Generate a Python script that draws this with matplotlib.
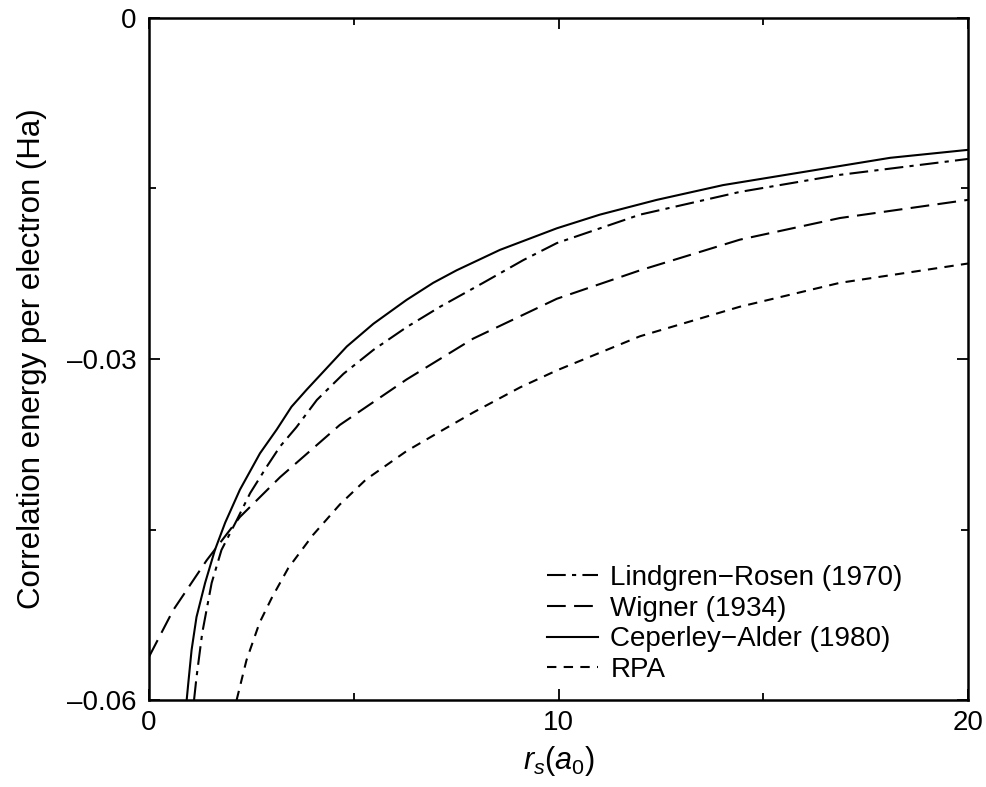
import matplotlib
matplotlib.use("Agg")
import matplotlib.pyplot as plt
from matplotlib.ticker import MultipleLocator

plt.rcParams['font.family'] = ['Liberation Sans', 'DejaVu Sans']
plt.rcParams['mathtext.fontset'] = 'custom'
plt.rcParams['mathtext.rm'] = 'Liberation Sans'
plt.rcParams['mathtext.it'] = 'Liberation Sans:italic'

# Ceperley-Alder (1980), solid
ca_rs = [0.92, 0.96, 1.04, 1.16, 1.37, 1.61, 1.86, 2.22, 2.71, 3.12, 3.48, 3.85,
         4.83, 5.48, 6.29, 6.94, 7.51, 8.57, 9.96, 11.01, 12.4, 14.02, 16.06,
         18.1, 20]
ca_ec = [-0.0600, -0.0585, -0.0556, -0.0527, -0.0497, -0.0468, -0.0444, -0.0415,
         -0.0383, -0.0362, -0.0342, -0.0327, -0.0289, -0.0269, -0.0248, -0.0233,
         -0.0222, -0.0204, -0.0185, -0.0173, -0.0160, -0.0147, -0.0135, -0.0123,
         -0.0116]

# Lindgren-Rosen (1970), dash-dot
lr_rs = [1.10, 1.16, 1.30, 1.53, 1.77, 2.14, 2.47, 2.87, 3.2, 3.6, 4.1, 4.75,
         5.48, 6.29, 7.11, 8.16, 9.14, 9.96, 11.99, 14.43, 16.87, 20]
lr_ec = [-0.0600, -0.0580, -0.0541, -0.0497, -0.0468, -0.0442, -0.0418, -0.0395,
         -0.0377, -0.0360, -0.0336, -0.0313, -0.0292, -0.0272, -0.0254, -0.0233,
         -0.0213, -0.0198, -0.0173, -0.0153, -0.0138, -0.0124]

# Wigner (1934), long dashes
wg_rs = [0, 0.59, 1.41, 2.22, 3.2, 4.66, 6.29, 7.92, 9.96, 11.99, 14.43, 16.87, 20]
wg_ec = [-0.0562, -0.0521, -0.0477, -0.0439, -0.0404, -0.0358, -0.0318, -0.0282,
         -0.0247, -0.0222, -0.0195, -0.0176, -0.0160]

# RPA, short dashes
rpa_rs = [2.14, 2.38, 2.7, 3.0, 3.4, 4.0, 4.66, 5.3, 6.29, 7.1, 7.92, 9.06, 9.96,
          11.99, 14.43, 16.87, 20]
rpa_ec = [-0.0600, -0.0565, -0.0532, -0.0510, -0.0484, -0.0455, -0.0428, -0.0406,
          -0.0381, -0.0364, -0.0347, -0.0325, -0.0310, -0.0280, -0.0254, -0.0233,
          -0.0216]

fig = plt.figure(figsize=(9.87, 7.87), dpi=100)
ax = fig.add_axes([149 / 987, 1 - 700 / 787, 819 / 987, 682 / 787])

lw = 1.5
ax.plot(lr_rs, lr_ec, color='black', lw=lw, dashes=(9, 3, 2, 3),
        label='Lindgren\u2212Rosen (1970)')
ax.plot(wg_rs, wg_ec, color='black', lw=lw, dashes=(9, 4),
        label='Wigner (1934)')
ax.plot(ca_rs, ca_ec, color='black', lw=lw, label='Ceperley\u2212Alder (1980)')
ax.plot(rpa_rs, rpa_ec, color='black', lw=lw, dashes=(4.5, 3.5), label='RPA')

ax.set_xlim(0, 20)
ax.set_ylim(-0.06, 0)
ax.set_xticks([0, 10, 20])
ax.set_xticklabels(['0', '10', '20'])
ax.set_yticks([0, -0.03, -0.06])
ax.set_yticklabels(['0', '\u20130.03', '\u20130.06'])
ax.xaxis.set_minor_locator(MultipleLocator(5))
ax.yaxis.set_minor_locator(MultipleLocator(0.015))
ax.tick_params(which='both', direction='in', top=True, right=True,
               labelsize=20, width=1.3)
ax.tick_params(axis='x', pad=7)
ax.tick_params(axis='y', pad=9)
ax.tick_params(which='major', length=8)
ax.tick_params(which='minor', length=5)
for s in ax.spines.values():
    s.set_linewidth(1.8)

ax.set_xlabel(r'$r_s(a_0)$', fontsize=22, labelpad=6)
ax.set_ylabel('Correlation energy per electron (Ha)', fontsize=22.5, labelpad=14)

ax.legend(loc='upper left', bbox_to_anchor=(0.486, 0.198), frameon=False,
          fontsize=20, handlelength=1.85, handletextpad=0.43,
          labelspacing=0.17, borderpad=0, borderaxespad=0)

fig.savefig('out.png', dpi=100)
